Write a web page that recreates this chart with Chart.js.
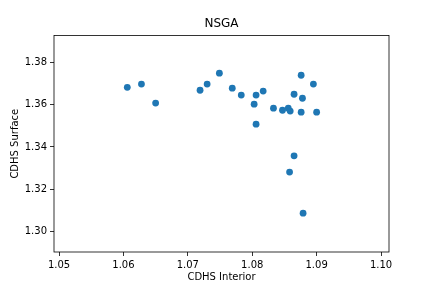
<!DOCTYPE html>
<html>
<head>
<meta charset="utf-8">
<script src="https://cdn.jsdelivr.net/npm/chart.js@4.4.0/dist/chart.umd.min.js"></script>
<style>
  html, body { margin: 0; padding: 0; background: #fff; }
  canvas { display: block; }
</style>
</head>
<body>
<canvas id="nsga" width="432" height="288"></canvas>
<script>
// valores
const cdhsInterior = [
  1.0606, 1.0628, 1.0650, 1.0719, 1.0730, 1.0749, 1.0769, 1.0783, 1.0806,
  1.0817, 1.0803, 1.0806, 1.0833, 1.0847, 1.0856, 1.0859, 1.0876, 1.0895,
  1.0865, 1.0878, 1.0876, 1.0900, 1.0865, 1.0858, 1.0879
];
const cdhsSurface = [
  1.3683, 1.3698, 1.3608, 1.3669, 1.3698, 1.3750, 1.3679, 1.3646, 1.3646,
  1.3665, 1.3603, 1.3508, 1.3584, 1.3574, 1.3584, 1.3570, 1.3740, 1.3698,
  1.3650, 1.3631, 1.3565, 1.3565, 1.3358, 1.3281, 1.3086
];
const xTicks = [1.05, 1.06, 1.07, 1.08, 1.09, 1.10];
const yTicks = [1.30, 1.32, 1.34, 1.36, 1.38];

const pontos = cdhsInterior.map((x, i) => ({ x: x, y: cdhsSurface[i] }));

const fonte = { family: 'DejaVu Sans', size: 10 };

// moldura dos quatro lados, como no matplotlib
const moldura = {
  id: 'moldura',
  afterDraw(chart) {
    const { ctx, chartArea: a } = chart;
    ctx.save();
    ctx.strokeStyle = '#000';
    ctx.lineWidth = 0.8;
    ctx.strokeRect(a.left, a.top, a.right - a.left, a.bottom - a.top);
    ctx.restore();
  }
};

const eixo = (ticks) => ({
  type: 'linear',
  grid: { display: true, drawOnChartArea: false, drawTicks: true, tickLength: 4, color: '#000', lineWidth: 0.8 },
  border: { display: false },
  afterBuildTicks(s) { s.ticks = ticks.map(v => ({ value: v })); },
  ticks: { color: '#000', font: fonte, padding: 3, callback: v => v.toFixed(2), maxRotation: 0 }
});

const xScale = eixo(xTicks);
xScale.min = 1.04922;
xScale.max = 1.10124;
xScale.title = { display: true, text: 'CDHS Interior', color: '#000', font: fonte, padding: { top: 0, bottom: 5 } };
xScale.afterFit = s => { s.height = 36; };

const yScale = eixo(yTicks);
yScale.min = 1.2902;
yScale.max = 1.3929;
yScale.title = { display: true, text: 'CDHS Surface', color: '#000', font: fonte, padding: { top: 9, bottom: 0 } };
yScale.afterFit = s => { s.width = 54; };

new Chart(document.getElementById('nsga').getContext('2d'), {
  type: 'scatter',
  data: {
    datasets: [{
      data: pontos,
      backgroundColor: '#1f77b4',
      borderWidth: 0,
      pointRadius: 3.4,
      pointHoverRadius: 3.4
    }]
  },
  options: {
    responsive: false,
    animation: false,
    layout: { padding: { left: 0, right: 43, top: 0, bottom: 0 } },
    plugins: {
      legend: { display: false },
      tooltip: { enabled: false },
      title: {
        display: true,
        fullSize: false,
        text: 'NSGA',
        color: '#000',
        font: { family: 'DejaVu Sans', size: 12, weight: 'normal' },
        padding: { top: 17, bottom: 4 }
      }
    },
    scales: { x: xScale, y: yScale }
  },
  plugins: [moldura]
});
</script>
</body>
</html>
